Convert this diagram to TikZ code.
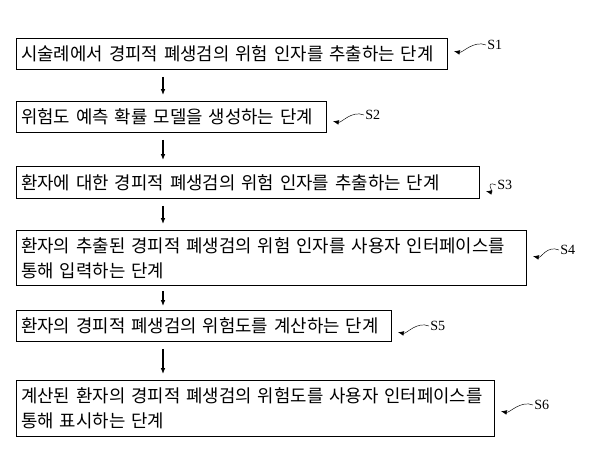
\documentclass[tikz,border=0pt]{standalone}
\usepackage{fontspec}
\setmainfont{Liberation Serif}
\newfontfamily\kofont{Noto Sans CJK KR}
\usetikzlibrary{positioning, calc, arrows.meta}

\begin{document}
\begin{tikzpicture}[
    x=0.03cm, y=-0.03cm,
    >={Latex[length=5pt,width=4pt]},
    stepbox/.style={draw, thick, anchor=north west, align=left, inner xsep=4pt, font=\kofont\fontsize{15.2}{21}\selectfont},
    flow/.style={->, very thick},
    lead/.style={->, thin, shorten >=5pt},
    tag/.style={font=\fontsize{12}{14}\selectfont, inner sep=1pt, anchor=west}]

    \useasboundingbox (0,0) rectangle (600,469);

    \node[stepbox, text width=422*0.03cm, minimum height=31*0.03cm] at (16,38) (s1box) {시술례에서 경피적 폐생검의 위험 인자를 추출하는 단계};
    \node[stepbox, text width=301*0.03cm, minimum height=31*0.03cm] at (16,101) (s2box) {위험도 예측 확률 모델을 생성하는 단계};
    \node[stepbox, text width=454*0.03cm, minimum height=32*0.03cm] at (16,166) (s3box) {환자에 대한 경피적 폐생검의 위험 인자를 추출하는 단계};
    \node[stepbox, text width=501*0.03cm, minimum height=55*0.03cm] at (16,230) (s4box) {환자의 추출된 경피적 폐생검의 위험 인자를 사용자 인터페이스를\\통해 입력하는 단계};
    \node[stepbox, text width=366*0.03cm, minimum height=31*0.03cm] at (16,310) (s5box) {환자의 경피적 폐생검의 위험도를 계산하는 단계};
    \node[stepbox, text width=469*0.03cm, minimum height=56*0.03cm] at (16,380) (s6box) {계산된 환자의 경피적 폐생검의 위험도를 사용자 인터페이스를\\통해 표시하는 단계};

    %%% Flow between steps
    \draw[flow] ($(s1box.south -| 163,0)+(0,7)$) -- ($(s2box.north -| 163,0)+(0,-6)$);
    \draw[flow] ($(s2box.south -| 163,0)+(0,7)$) -- ($(s3box.north -| 163,0)+(0,-6)$);
    \draw[flow] ($(s3box.south -| 163,0)+(0,7)$) -- ($(s4box.north -| 163,0)+(0,-6)$);
    \draw[flow] ($(s4box.south -| 163,0)+(0,5)$) -- ($(s5box.north -| 163,0)+(0,-4)$);
    \draw[flow] ($(s5box.south -| 163,0)+(0,7)$) -- ($(s6box.north -| 163,0)+(0,-6)$);

    %%% Step tags
    \node[tag] at (486,45) (s1) {S1};
    \node[tag] at (364,115) (s2) {S2};
    \node[tag] at (496,185) (s3) {S3};
    \node[tag] at (559,250) (s4) {S4};
    \node[tag] at (429,326) (s5) {S5};
    \node[tag] at (533,405) (s6) {S6};

    \foreach \s in {1,...,6}
        \draw[lead] (s\s.west) .. controls +(-12,-5) and +(14,3) .. ($(s\s.west -| s\s box.east)+(0,5)$);

\end{tikzpicture}
\end{document}
